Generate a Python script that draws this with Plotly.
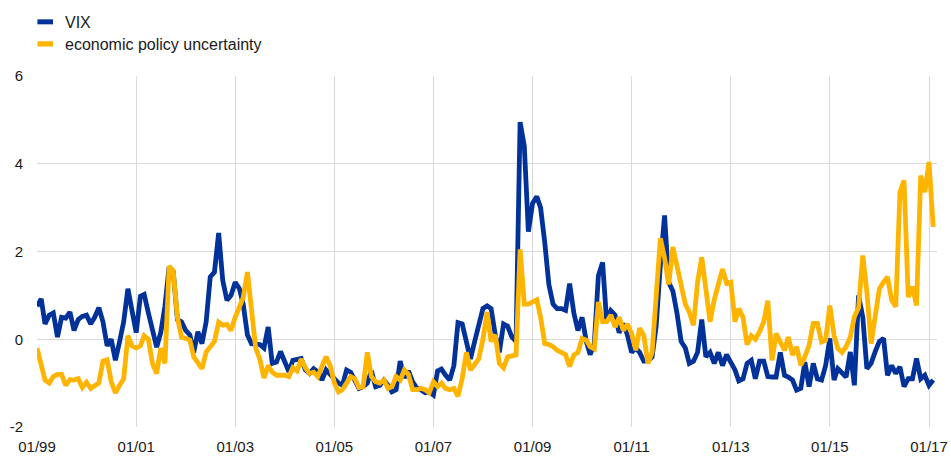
import pandas as pd
import plotly.graph_objects as go

# Monthly observations, Jan 1999 - Feb 2017 (standardised units)
start_month = "1999-01-01"

vix = [
    0.75, 0.92, 0.35, 0.55, 0.6, 0.05, 0.5, 0.48, 0.62, 0.2, 0.45, 0.52,
    0.55, 0.35, 0.5, 0.72, 0.4, -0.15, 0.0, -0.48, -0.05, 0.4, 1.15, 0.7,
    0.15, 0.98, 1.02, 0.6, 0.25, -0.18, 0.15, 0.75, 1.65, 1.55, 0.45, 0.4,
    0.2, 0.1, -0.3, 0.17, -0.1, 0.4, 1.42, 1.53, 2.42, 1.34, 0.89, 1.0,
    1.3, 1.15, 0.8, 0.1, -0.1, -0.12, -0.12, -0.2, 0.28, -0.55, -0.52, -0.28,
    -0.5, -0.74, -0.48, -0.45, -0.44, -0.7, -0.78, -0.67, -0.74, -0.93, -0.7, -0.8,
    -0.9, -1.0, -1.05, -0.7, -0.75, -0.95, -1.12, -1.08, -1.0, -0.72, -1.08, -1.05,
    -0.93, -1.05, -1.2, -1.15, -0.5, -0.88, -0.72, -0.97, -1.12, -1.15, -1.22, -1.2,
    -1.27, -0.72, -0.68, -0.82, -0.93, -0.6, 0.38, 0.35, -0.1, -0.45, -0.05, 0.32,
    0.7, 0.76, 0.7, 0.1, -0.3, 0.35, 0.3, 0.05, -0.05, 4.95, 4.4, 2.45,
    3.1, 3.25, 3.0, 2.2, 1.25, 0.8, 0.7, 0.7, 0.66, 1.27, 0.6, 0.2,
    0.5, -0.05, -0.35, -0.1, 1.45, 1.75, 0.4, 0.65, 0.55, 0.15, 0.36, 0.1,
    -0.3, -0.2, -0.3, -0.5, -0.5, -0.4, 0.3, 1.7, 2.82, 1.3, 1.1, 0.6,
    -0.05, -0.2, -0.55, -0.5, -0.3, 0.45, -0.4, -0.3, -0.55, -0.3, -0.6, -0.35,
    -0.55, -0.7, -0.95, -0.9, -0.55, -0.48, -0.9, -0.5, -0.5, -0.85, -0.86, -0.86,
    -0.3, -0.82, -0.86, -0.93, -1.16, -1.12, -0.52, -1.08, -0.55, -0.9, -0.93, -0.6,
    0.02, -0.93, -0.67, -0.78, -0.86, -0.29, -1.05, 1.0, 0.5, -0.67, -0.55, -0.29,
    -0.05, 0.02, -0.82, -0.6, -0.78, -0.63, -1.08, -0.9, -0.9, -0.44, -0.9, -0.82,
    -1.05, -0.93,
]

epu = [
    -0.2, -0.6, -0.93, -1.0, -0.85, -0.8, -0.8, -1.05, -0.92, -0.93, -0.9, -1.1,
    -0.98, -1.12, -1.05, -1.0, -0.5, -0.47, -0.97, -1.22, -1.05, -0.9, 0.08, -0.15,
    -0.2, -0.15, 0.08, 0.0, -0.55, -0.78, -0.2, -0.55, 1.67, 1.55, 0.5, 0.05,
    0.02, -0.02, -0.4, -0.55, -0.67, -0.29, -0.15, -0.05, 0.39, 0.32, 0.34, 0.2,
    0.5, 0.74, 0.95, 1.53, 0.55, -0.2, -0.45, -0.88, -0.6, -0.75, -0.82, -0.82,
    -0.82, -0.85, -0.65, -0.72, -0.45, -0.65, -0.78, -0.75, -0.85, -0.62, -0.4, -0.6,
    -1.0, -1.2, -1.15, -1.0, -0.85, -0.9, -1.1, -1.08, -0.3, -0.85, -0.97, -1.0,
    -0.93, -1.12, -1.08, -0.85, -0.93, -0.7, -0.8, -1.15, -1.15, -1.12, -1.15, -1.22,
    -0.97, -1.08, -1.0, -1.12, -1.15, -1.12, -1.3, -0.9, -0.3, -0.7, -0.58, -0.45,
    0.0, 0.62, -0.05, 0.1, -0.55, -0.65, -0.4, -0.38, -0.36, 2.05, 0.8, 0.8,
    0.85, 0.9, 0.5, -0.1, -0.12, -0.17, -0.25, -0.3, -0.35, -0.62, -0.36, -0.3,
    0.02, -0.02, -0.17, -0.22, 0.85, 0.4, 0.4, 0.55, 0.28, 0.5, 0.2, 0.35,
    0.13, -0.25, 0.25, 0.09, -0.55, -0.3, 0.9, 2.3, 1.85, 1.25, 2.1, 1.7,
    1.3, 0.8, 0.62, 0.32, 1.3, 1.87, 1.15, 0.4, 0.9, 1.3, 1.6, 1.28,
    1.3, 0.4, 0.7, 0.5, -0.12, 0.08, 0.0, 0.17, 0.4, 0.88, -0.48, 0.13,
    -0.05, -0.25, 0.05, -0.36, -0.17, -0.59, -0.4, -0.14, 0.36, 0.36, -0.06, -0.02,
    0.77, 0.09, -0.21, -0.3, -0.17, 0.05, 0.51, 0.72, 1.91, 1.08, -0.1, 0.55,
    1.15, 1.3, 1.42, 0.89, 0.74, 3.35, 3.62, 0.96, 1.2, 0.77, 3.73, 3.35,
    4.04, 2.56,
]

series_names = ["VIX", "economic policy uncertainty"]
y_ticks = [-2, 0, 2, 4, 6]
y_tick_labels = ["-2", "0", "2", "4", "6"]

dates = pd.date_range(start_month, periods=len(vix), freq="MS")

BLUE = "#003299"
ORANGE = "#FFB400"
FONT = "Arial, Liberation Sans, sans-serif"
TXT = "#1a1a1a"

W, HGT = 951, 456
ML, MR, MT, MB = 37.3, 14.3, 76.0, 28.7
PH = HGT - MT - MB
PW = W - ML - MR

fig = go.Figure()
fig.add_trace(go.Scatter(x=dates, y=vix, mode="lines", name=series_names[0],
                         line=dict(color=BLUE, width=4.8, shape="linear"),
                         showlegend=False, hoverinfo="skip"))
fig.add_trace(go.Scatter(x=dates, y=epu, mode="lines", name=series_names[1],
                         line=dict(color=ORANGE, width=4.8, shape="linear"),
                         showlegend=False, hoverinfo="skip"))

# Custom legend (small bars + labels) above the plot
def py(px):
    return (HGT - MB - px) / PH

def pxx(px):
    return (px - ML) / PW

legend_items = [(BLUE, 19.3, 24.3, 22.5), (ORANGE, 41.2, 46.5, 44.5)]
for (col, y0, y1, yc), name in zip(legend_items, series_names):
    fig.add_shape(type="rect", xref="paper", yref="paper",
                  x0=pxx(37.7), x1=pxx(53.3), y0=py(y1), y1=py(y0),
                  fillcolor=col, line=dict(width=0))
    fig.add_annotation(text=name, xref="paper", yref="paper",
                       x=pxx(63.5), y=py(yc), xanchor="left", yanchor="middle",
                       showarrow=False,
                       font=dict(family=FONT, size=16, color=TXT))

fig.update_layout(
    width=W, height=HGT,
    margin=dict(l=ML, r=MR, t=MT, b=MB, autoexpand=False),
    paper_bgcolor="white", plot_bgcolor="white",
    font=dict(family=FONT, size=15, color=TXT),
    showlegend=False,
)
fig.update_xaxes(
    type="date", range=["1999-01-01", "2017-03-01"],
    tick0="1999-01-01", dtick="M24", tickformat="%m/%y",
    showgrid=True, gridcolor="#d9d9d9", gridwidth=1,
    zeroline=False, showline=False, ticks="",
    ticklabelstandoff=9, automargin=False,
    tickfont=dict(family=FONT, size=15, color=TXT),
)
fig.update_yaxes(
    range=[-2, 6], tickvals=y_ticks, ticktext=y_tick_labels,
    showgrid=True, gridcolor="#d9d9d9", gridwidth=1,
    zeroline=False, showline=False, ticks="",
    ticklabelstandoff=13, automargin=False,
    tickfont=dict(family=FONT, size=15, color=TXT),
)

css_fix = (
    "var s=document.createElement('style');"
    "s.innerHTML='html,body{margin:0!important;padding:0!important;overflow:hidden;"
    "width:951px;height:456px;} body>div{height:456px;width:951px;overflow:hidden;}';"
    "document.head.appendChild(s);"
)

fig.write_html("out.html", config={"displayModeBar": False, "staticPlot": True},
               post_script=css_fix)
